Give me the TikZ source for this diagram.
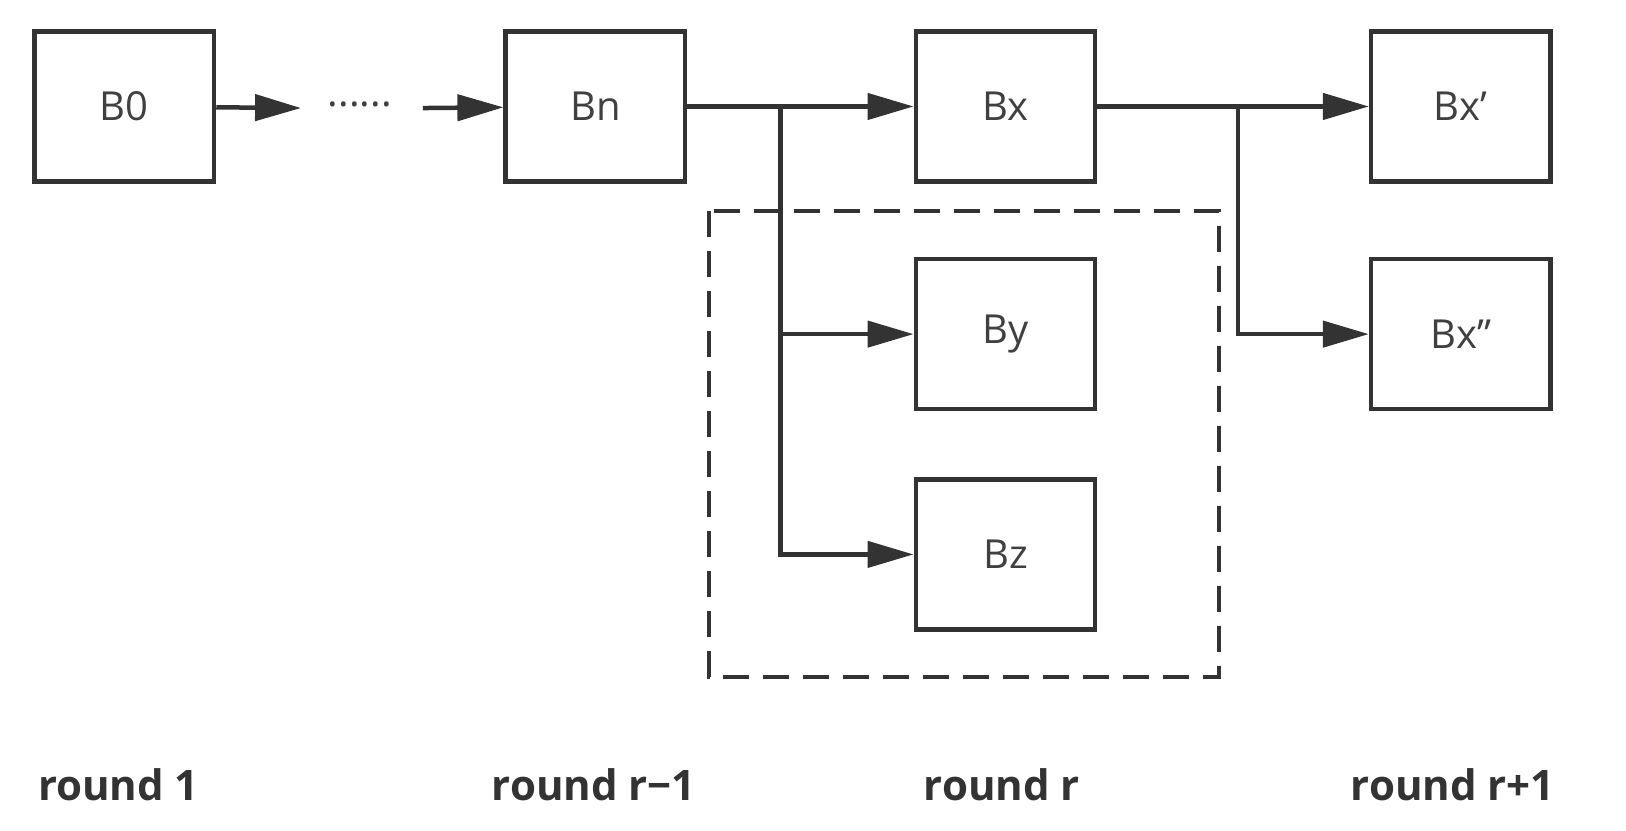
\documentclass[tikz,border=0pt]{standalone}
\usepackage{fontspec}
\setmainfont{Open Sans}
\usetikzlibrary{arrows.meta}
\begin{document}
\begin{tikzpicture}[x=1.049pt,y=-1.049pt,
  blk/.style={draw=black!80,line width=4.5pt,minimum width=171*1.049pt,minimum height=143*1.049pt,inner sep=0pt,font=\fontsize{40}{44}\selectfont,text=black!75},
  arr/.style={draw=black!80,line width=4.5pt,-{Triangle[length=46pt,width=26pt]}},
  lbl/.style={font=\bfseries\fontsize{42}{46}\selectfont,text=black!80}]
\useasboundingbox (0,0) rectangle (1550,792);
\node[blk] (b0) at (118.5,101.5) {B0};
\node[blk] (bn) at (567.5,101.5) {Bn};
\node[blk] (bx) at (958.5,101.5) {Bx};
\node[blk] (bx1) at (1392.5,101.5) {Bx'};
\node[blk] (by) at (958.5,318.5) {By};
\node[blk] (bz) at (958.5,528.5) {Bz};
\node[blk] (bx2) at (1392.5,318.5) {Bx''};
\draw[draw=black!80,line width=4pt,dash pattern=on 26pt off 14pt] (676,201) rectangle (1162,645);
\node[font=\fontsize{40}{44}\selectfont,text=black!75] (dots) at (343,100) {......};
\coordinate (d1) at (287,103);
\coordinate (d2) at (403,103);
\coordinate (j1) at (744,103);
\coordinate (j2) at (1180,103);
\draw[arr] (b0) -- (d1);
\draw[arr] (d2) -- (bn);
\draw[arr] (bn) -- (bx);
\draw[arr] (bx) -- (bx1);
\draw[arr] (j1) |- (by);
\draw[arr] (j1) |- (bz);
\draw[arr] (j2) |- (bx2);
\node[lbl] (l1) at (113,748) {round 1};
\node[lbl] (l2) at (566,748) {round r−1};
\node[lbl] (l3) at (955,748) {round r};
\node[lbl] (l4) at (1385,748) {round r+1};
\end{tikzpicture}
\end{document}
